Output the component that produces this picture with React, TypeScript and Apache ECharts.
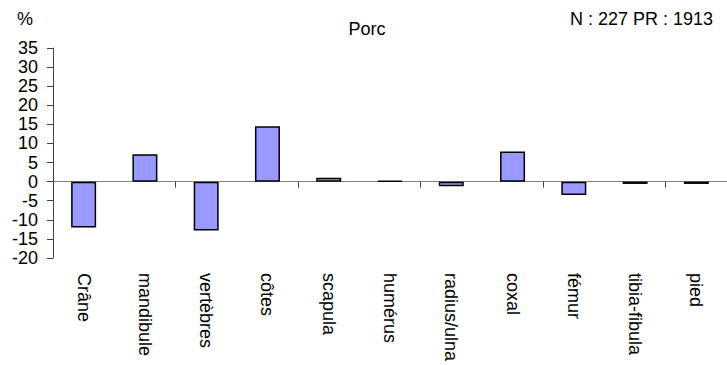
import React, { useEffect, useRef } from "react";
import * as echarts from "echarts";

const categories = ["Crâne", "mandibule", "vertèbres", "côtes", "scapula", "humérus", "radius/ulna", "coxal", "fémur", "tibia-fibula", "pied"];
const values = [-12.0, 7.2, -12.8, 14.5, 1.0, 0.25, -1.2, 7.9, -3.5, -0.6, -0.6];
const yTicks = { min: -20, max: 35, interval: 5 };
const titleText = "Porc";
const unitText = "%";
const infoText = "N : 227 PR : 1913";

const FONT = "'Liberation Sans', Arial, sans-serif";

export default function App() {
  const ref = useRef<HTMLDivElement>(null);
  useEffect(() => {
    document.body.style.margin = "0";
    const chart = echarts.init(ref.current!, null, { renderer: "svg" });
    chart.setOption({
      animation: false,
      backgroundColor: "#ffffff",
      textStyle: { fontFamily: FONT },
      grid: { left: 53, right: 0, top: 48, bottom: 107, containLabel: false },
      graphic: [
        { type: "text", left: 17, top: 10, style: { text: unitText, font: `18px ${FONT}`, fill: "#000" } },
        { type: "text", x: 367, y: 29, style: { text: titleText, font: `18px ${FONT}`, fill: "#000", align: "center", verticalAlign: "middle" } },
        { type: "text", x: 713, y: 19, style: { text: infoText, font: `18px ${FONT}`, fill: "#000", align: "right", verticalAlign: "middle" } },
      ],
      xAxis: [
        {
          type: "category",
          data: categories,
          position: "bottom",
          axisLine: { onZero: true, lineStyle: { color: "#808080", width: 1 } },
          axisTick: { show: true, length: 6, inside: false, lineStyle: { color: "#404040" } },
          axisLabel: { show: false },
          splitLine: { show: false },
        },
        {
          type: "category",
          data: categories,
          position: "bottom",
          axisLine: { show: false, onZero: false },
          axisTick: { show: false },
          axisLabel: { show: true, rotate: -90, margin: 15, fontSize: 18, color: "#000", fontFamily: FONT, interval: 0 },
          splitLine: { show: false },
        },
      ],
      yAxis: {
        type: "value",
        min: yTicks.min,
        max: yTicks.max,
        interval: yTicks.interval,
        axisLine: { show: true, lineStyle: { color: "#404040", width: 1 } },
        axisTick: { show: true, length: 6, lineStyle: { color: "#404040" } },
        axisLabel: { margin: 15, fontSize: 18, color: "#000", fontFamily: FONT },
        splitLine: { show: false },
      },
      series: [
        {
          type: "bar",
          xAxisIndex: 0,
          data: values,
          barWidth: 25,
          itemStyle: { color: "#9999FF", borderColor: "#000", borderWidth: 1.5 },
        },
      ],
    });
    return () => chart.dispose();
  }, []);
  return <div ref={ref} style={{ width: 727, height: 365 }} />;
}
